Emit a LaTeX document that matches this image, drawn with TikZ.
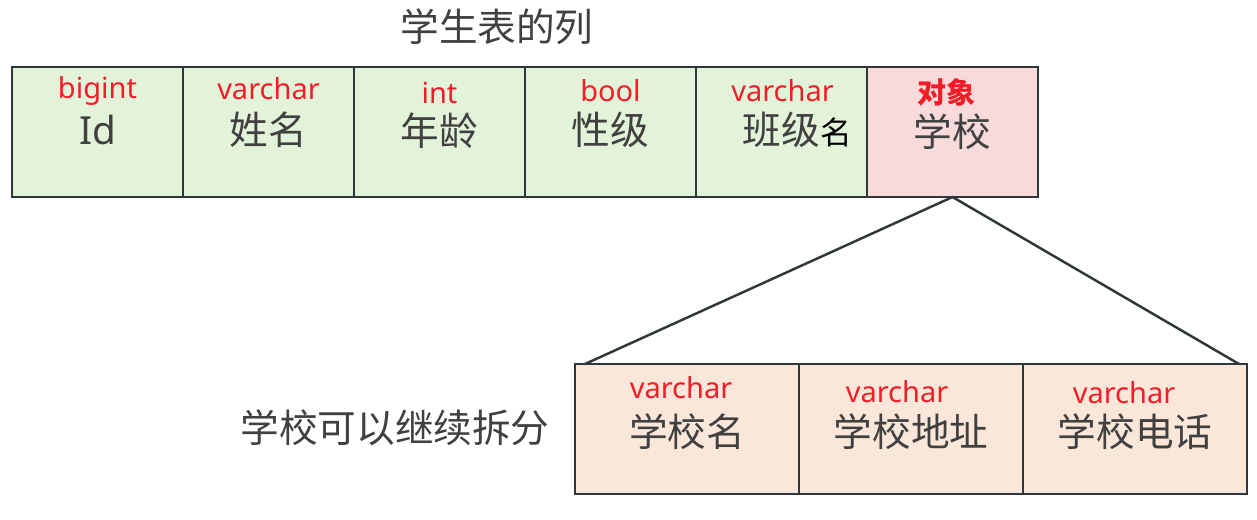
\documentclass[tikz,border=0pt]{standalone}
\usepackage{fontspec}
\setmainfont{Noto Sans}
\newfontfamily\cjk{Noto Sans CJK SC}
\usepackage{tikz}
\usetikzlibrary{positioning}
\definecolor{linegray}{HTML}{30373A}
\definecolor{textgray}{HTML}{404040}
\definecolor{typered}{HTML}{F01E28}
\definecolor{colgreen}{HTML}{E2F3DA}
\definecolor{objpink}{HTML}{F9DADA}
\definecolor{subpeach}{HTML}{FBE7D9}

\tikzset{
  cell/.style={draw=linegray, line width=1.4pt, minimum width=3.42cm, minimum height=2.6cm, inner sep=0pt, outer sep=0pt, anchor=north west, fill=colgreen},
  subcell/.style={cell, minimum width=4.48cm, fill=subpeach},
  typelbl/.style={text=typered, font=\fontsize{16.5}{18}\selectfont, inner sep=0pt},
  namelbl/.style={text=textgray, font=\cjk\fontsize{22}{24}\selectfont, inner sep=0pt},
}

\begin{document}
\begin{tikzpicture}
  \useasboundingbox (0,0) rectangle (25.14,-10.38);
  \node[namelbl] (title) at (9.94,-0.54) {学生表的列};
  % columns of the student table
  \node[cell] (id) at (0.24,-1.34) {};
  \node[cell, right=0pt of id] (name) {};
  \node[cell, right=0pt of name] (age) {};
  \node[cell, right=0pt of age] (sex) {};
  \node[cell, right=0pt of sex] (class) {};
  \node[cell, right=0pt of class, fill=objpink] (school) {};
  \node[typelbl] (tid) at ([yshift=-0.48cm]id.north) {bigint};
  \node[namelbl, font=\fontsize{22}{24}\selectfont] (nid) at ([yshift=-1.26cm]id.north) {Id};
  \node[typelbl] (tname) at ([yshift=-0.44cm]name.north) {varchar};
  \node[namelbl] (nname) at ([yshift=-1.26cm]name.north) {姓名};
  \node[typelbl] (tage) at ([yshift=-0.52cm]age.north) {int};
  \node[namelbl] (nage) at ([yshift=-1.28cm]age.north) {年龄};
  \node[typelbl] (tsex) at ([yshift=-0.48cm]sex.north) {bool};
  \node[namelbl] (nsex) at ([yshift=-1.26cm]sex.north) {性级};
  \node[typelbl] (tclass) at ([xshift=0.02cm,yshift=-0.48cm]class.north) {varchar};
  \node[namelbl, anchor=west] (nclass) at ([xshift=-0.78cm,yshift=-1.26cm]class.north) {班级\textcolor{black}{\fontsize{18}{20}\selectfont 名}};
  \node[typelbl, font=\cjk\bfseries\fontsize{16.5}{18}\selectfont] (tschool) at ([xshift=-0.12cm,yshift=-0.5cm]school.north) {对象};
  \node[namelbl] (nschool) at ([yshift=-1.3cm]school.north) {学校};
  % split of the school column
  \node[subcell] (sname) at (11.5,-7.28) {};
  \node[subcell, right=0pt of sname] (saddr) {};
  \node[subcell, right=0pt of saddr] (stel) {};
  \node[typelbl] (tsname) at ([xshift=-0.12cm,yshift=-0.48cm]sname.north) {varchar};
  \node[namelbl] (nsname) at ([yshift=-1.36cm]sname.north) {学校名};
  \node[typelbl] (tsaddr) at ([xshift=-0.28cm,yshift=-0.56cm]saddr.north) {varchar};
  \node[namelbl] (nsaddr) at ([yshift=-1.36cm]saddr.north) {学校地址};
  \node[typelbl] (tstel) at ([xshift=-0.22cm,yshift=-0.58cm]stel.north) {varchar};
  \node[namelbl] (nstel) at ([yshift=-1.36cm]stel.north) {学校电话};
  \node[namelbl, left=0.5cm of sname, yshift=0.03cm] (split) {学校可以继续拆分};
  \draw[linegray, line width=1.4pt] ([xshift=0.2cm]sname.north west) -- (school.south) -- ([xshift=-0.16cm]stel.north east);
\end{tikzpicture}
\end{document}
